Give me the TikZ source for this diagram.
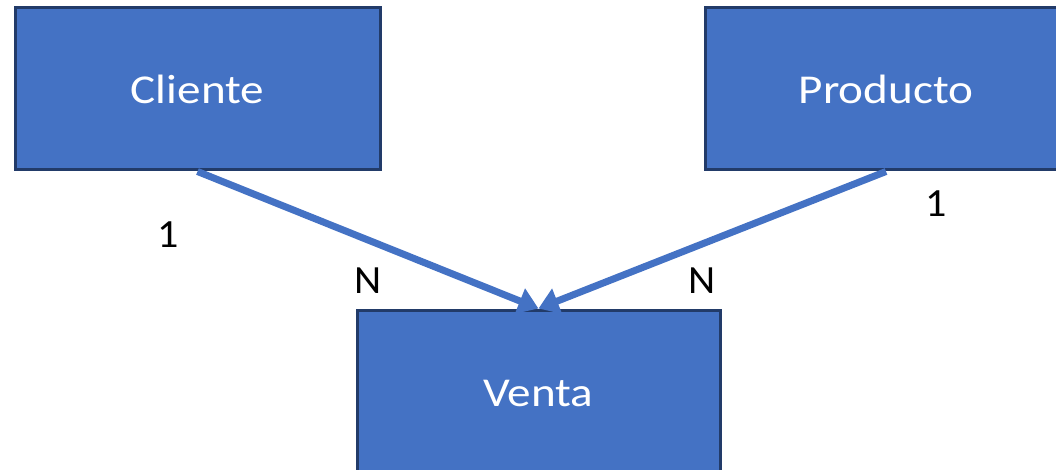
\documentclass[tikz,border=0pt]{standalone}
\usepackage{fontspec}
\setmainfont{Carlito}
\newfontfamily\boxfont[FakeStretch=1.15]{Carlito}
\newfontfamily\lblfont[FakeStretch=1.05]{Carlito}
\usetikzlibrary{arrows.meta}
\definecolor{boxfill}{HTML}{4472C4}
\definecolor{boxline}{HTML}{223B69}
\tikzset{
  entity/.style={draw=boxline, line width=3pt, fill=boxfill, text=white,
    font=\boxfont\fontsize{41}{45}\selectfont, inner sep=0pt},
  rel/.style={draw=boxfill, line width=7pt,
    -{Triangle[width=26pt,length=20pt]}, shorten >=0pt},
  card/.style={font=\lblfont\fontsize{40}{44}\selectfont, text=black}
}
\begin{document}
\begin{tikzpicture}[x=1pt,y=-1pt]
\useasboundingbox (0,0) rectangle (1056,470);
\node[entity, minimum width=365pt, minimum height=162pt] (cliente) at (197.5,89) {Cliente};
\node[entity, minimum width=362pt, minimum height=162pt] (producto) at (886,89) {Producto};
\node[entity, minimum width=363pt, minimum height=166pt] (venta) at (538.5,393) {Venta};
\draw[rel] (cliente.south) -- (venta.north);
\draw[rel] (producto.south) -- (venta.north);
\node[card] (c1) at (168,235) {1};
\node[card] (cn) at (368,281) {N};
\node[card] (pn) at (702,281) {N};
\node[card] (p1) at (936,204) {1};
\end{tikzpicture}
\end{document}
